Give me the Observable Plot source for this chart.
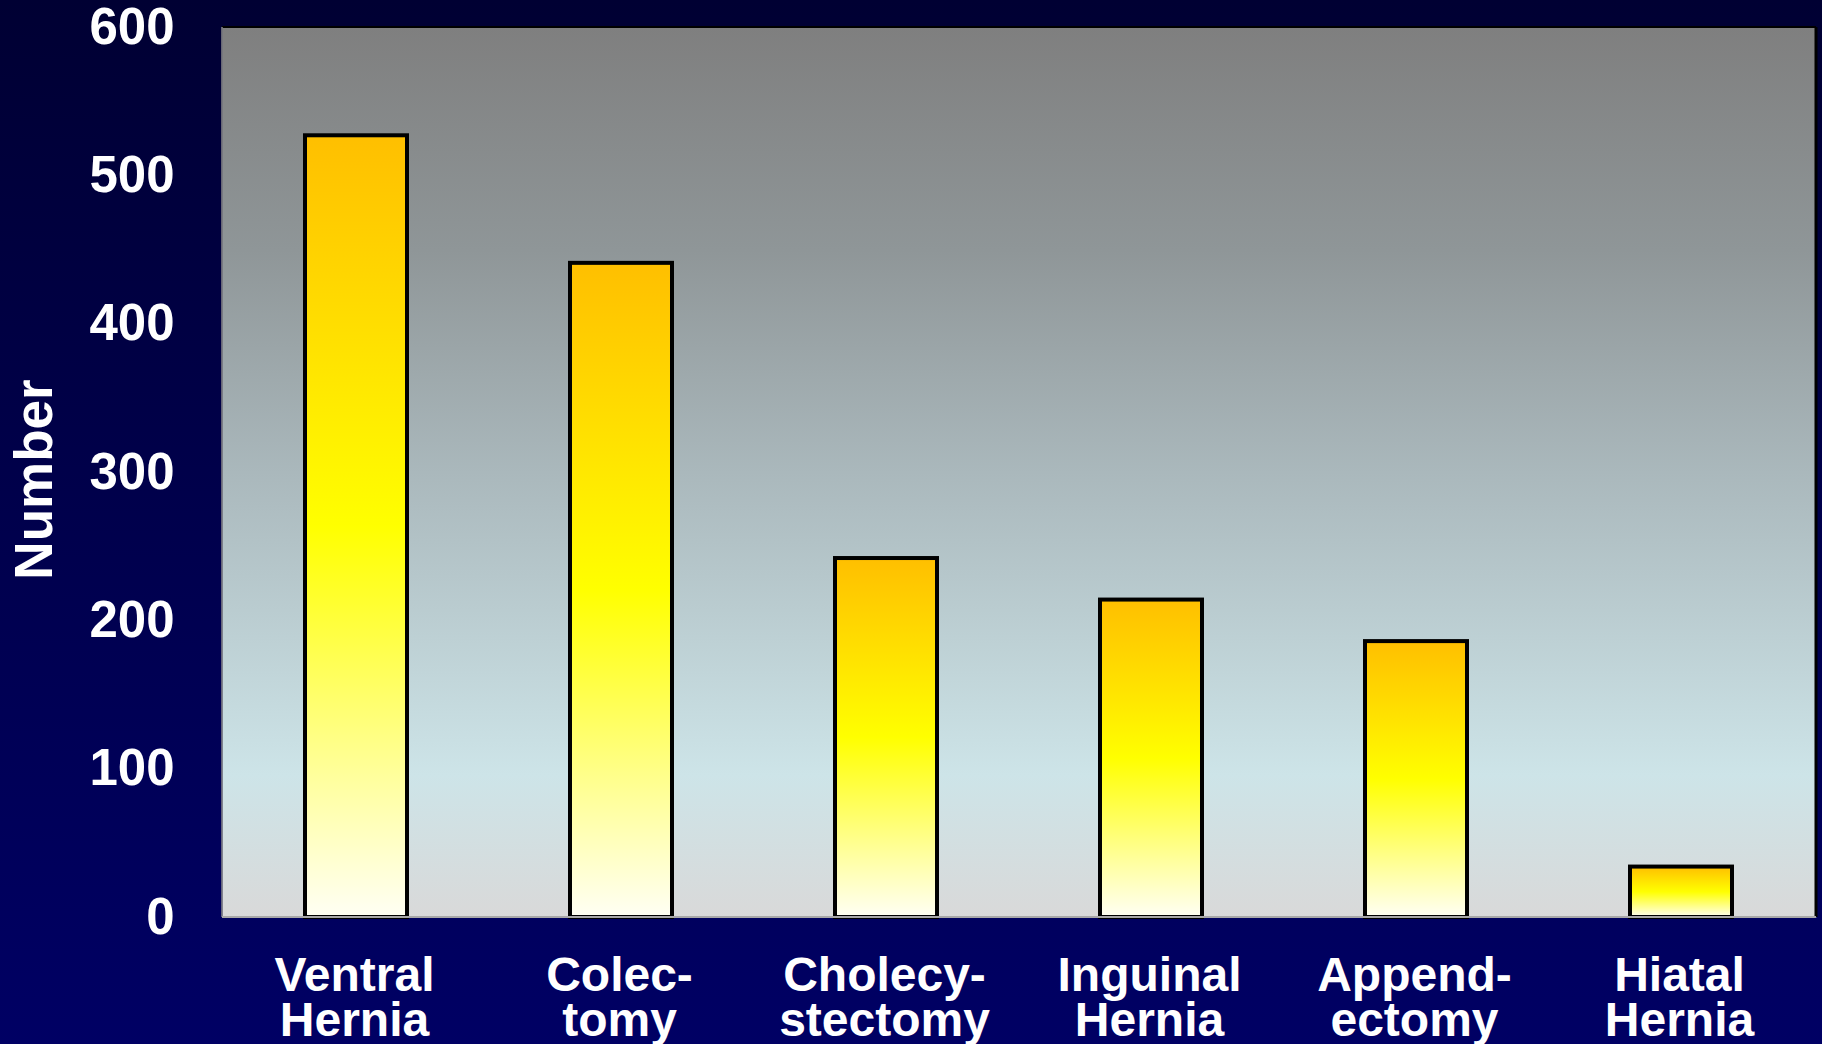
<!DOCTYPE html>
<html>
<head>
<meta charset="utf-8">
<script src="https://cdn.jsdelivr.net/npm/d3@7"></script>
<script src="https://cdn.jsdelivr.net/npm/@observablehq/plot@0.6"></script>
<style>
  html, body { margin: 0; padding: 0; }
  body {
    width: 1822px; height: 1044px; overflow: hidden;
    background: linear-gradient(to bottom, #000033 0%, #00004a 45%, #000064 100%);
  }
  #chart svg { display: block; }
</style>
</head>
<body>
<div id="chart"></div>
<script>
// Data
const categories = ["Ventral Hernia", "Colectomy", "Cholecystectomy", "Inguinal Hernia", "Appendectomy", "Hiatal Hernia"];
const values = [527, 441, 242, 214, 186, 34];
const tickLabels = ["Ventral\nHernia", "Colec-\ntomy", "Cholecy-\nstectomy", "Inguinal\nHernia", "Append-\nectomy", "Hiatal\nHernia"];
const yTicks = [0, 100, 200, 300, 400, 500, 600];
const yLabel = "Number";

const data = categories.map((c, i) => ({category: c, value: values[i]}));
const labelOf = new Map(categories.map((c, i) => [c, tickLabels[i]]));

function defs() {
  const d = d3.create("svg:defs");
  const bar = d.append("linearGradient").attr("id", "barGrad")
    .attr("x1", 0).attr("y1", 0).attr("x2", 0).attr("y2", 1);
  [[0, "#ffbf00"], [0.5, "#ffff00"], [1, "#fffff4"]].forEach(([o, c]) =>
    bar.append("stop").attr("offset", o).attr("stop-color", c));
  const bg = d.append("linearGradient").attr("id", "bgGrad")
    .attr("x1", 0).attr("y1", 0).attr("x2", 0).attr("y2", 1);
  [[0, "#7f7f7f"], [0.25, "#8f9698"], [0.5, "#aab8bc"], [0.84, "#cde4e8"], [1, "#d9d9d9"]].forEach(([o, c]) =>
    bg.append("stop").attr("offset", o).attr("stop-color", c));
  return d.node();
}

function borders(index, scales, values, dim) {
  const g = d3.create("svg:g");
  const l = dim.marginLeft, r = dim.width - dim.marginRight;
  const t = dim.marginTop, b = dim.height - dim.marginBottom;
  g.append("line").attr("x1", l).attr("x2", r).attr("y1", t).attr("y2", t)
    .attr("stroke", "#000").attr("stroke-width", 2);
  g.append("line").attr("x1", r).attr("x2", r).attr("y1", t).attr("y2", b)
    .attr("stroke", "#000").attr("stroke-width", 3);
  g.append("line").attr("x1", l).attr("x2", l).attr("y1", t).attr("y2", b)
    .attr("stroke", "#8a8a8a").attr("stroke-width", 1.5);
  g.append("line").attr("x1", l).attr("x2", r).attr("y1", b).attr("y2", b)
    .attr("stroke", "#a8a8a8").attr("stroke-width", 2);
  return g.node();
}

const chart = Plot.plot({
  width: 1822,
  height: 1044,
  marginLeft: 222,
  marginTop: 27,
  marginRight: 6,
  marginBottom: 127,
  style: {
    fontFamily: "'Liberation Sans', Arial, sans-serif",
    fontWeight: "bold",
    fontSize: "50px",
    color: "white",
    background: "transparent",
    overflow: "visible"
  },
  x: {domain: categories, paddingInner: 0.615, paddingOuter: 0.3075, align: 0.5},
  y: {domain: [0, 600]},
  marks: [
    defs,
    Plot.frame({fill: "url(#bgGrad)", stroke: null}),
    Plot.barY(data, {x: "category", y: "value", fill: "url(#barGrad)", stroke: "#000", strokeWidth: 4}),
    borders,
    Plot.axisY({ticks: yTicks, tickSize: 0, tickPadding: 48, label: null, fontSize: 51, fill: "white"}),
    Plot.axisX({tickSize: 0, tickPadding: 41, label: null, fontSize: 48, fill: "white",
      lineHeight: 0.94, dx: -2, tickFormat: d => labelOf.get(d)}),
    Plot.text([yLabel], {text: d => d, frameAnchor: "left", rotate: -90, dx: -187, dy: 7,
      fill: "white", fontSize: 53, fontWeight: "bold", textAnchor: "middle", lineAnchor: "middle"})
  ]
});
document.getElementById("chart").appendChild(chart);
</script>
</body>
</html>
